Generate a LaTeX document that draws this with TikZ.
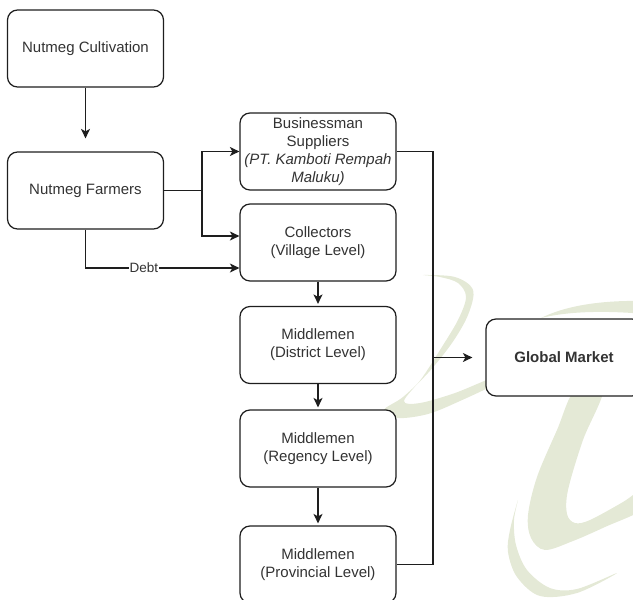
\documentclass[tikz,border=0pt]{standalone}
\usepackage{fontspec}
\setmainfont{Liberation Sans}
\usetikzlibrary{arrows.meta}
\definecolor{wm}{RGB}{228,233,214}
\definecolor{txt}{RGB}{51,51,51}
\definecolor{ln}{RGB}{30,30,30}
\begin{document}
\begin{tikzpicture}[x=1pt,y=-1pt,
  box/.style={draw=ln, line width=1.2pt, rounded corners=10pt, fill=white,
    minimum width=156pt, minimum height=77pt, align=center, text=txt,
    font=\fontsize{15}{18}\selectfont, inner sep=2pt},
  arr/.style={draw=ln, line width=1.2pt, -{Stealth[length=9.5pt,width=9pt,inset=2.5pt]}},
  wire/.style={draw=ln, line width=1.2pt},
  debtlabel/.style={fill=white, text=txt, inner sep=1pt, font=\fontsize{13.5}{15}\selectfont}]
\useasboundingbox (0,0) rectangle (633,600);
% watermark
\fill[wm] plot[smooth cycle, tension=0.55] coordinates {(423,275) (455,277) (473,290) (468,315) (452,343) (428,373) (403,397) (384,410) (398,418) (428,414) (460,401) (495,384) (495,377) (455,393) (420,403) (404,401) (422,378) (440,350) (458,320) (466,297) (458,283) (440,277)};
\fill[wm] plot[smooth cycle, tension=0.55] coordinates {(575,390) (557,430) (537,477) (528,515) (531,538) (545,550) (573,541) (605,527) (645,508) (645,488) (623,502) (590,520) (575,523) (567,514) (568,490) (583,440) (603,390)};
\fill[wm] plot[smooth cycle, tension=0.55] coordinates {(518,500) (510,530) (508,552) (517,577) (540,596) (577,593) (617,573) (577,589) (550,588) (527,570) (516,545) (514,520)};
\fill[wm] (541,318) .. controls (565,306) and (600,300) .. (645,301) -- (645,314) .. controls (600,310) and (565,312) .. (541,318) -- cycle;
% nodes
\node[box] (cult) at (85.5,48.5) {Nutmeg Cultivation};
\node[box] (farm) at (85.5,190.5) {Nutmeg Farmers};
\node[box] (biz) at (318,151.5) {Businessman\\Suppliers\\\textit{(PT. Kamboti Rempah}\\\textit{Maluku)}};
\node[box] (coll) at (318,242.5) {Collectors\\(Village Level)};
\node[box] (dist) at (318,345) {Middlemen\\(District Level)};
\node[box] (reg) at (318,448.5) {Middlemen\\(Regency Level)};
\node[box] (prov) at (318,564.5) {Middlemen\\(Provincial Level)};
\node[box, font=\fontsize{15}{18}\selectfont\bfseries] (gm) at (564,357.5) {Global Market};
% connectors
\coordinate (fork) at (202,190.5);
\coordinate (bus) at (433,357.5);
\draw[arr, shorten >=13pt] (cult) -- (farm);
\draw[wire] (farm.east) -- (fork);
\draw[arr] (fork) |- (biz.west);
\draw[arr] (fork) |- ([yshift=6.5pt]coll.west);
\draw[arr] (farm.south) |- node[pos=0.69, debtlabel] {Debt} ([yshift=-25.5pt]coll.west);
\draw[arr, shorten >=2pt] (coll) -- (dist);
\draw[arr, shorten >=2pt] (dist) -- (reg);
\draw[arr, shorten >=2pt] (reg) -- (prov);
\draw[wire] (biz.east) -| (bus) |- (prov.east);
\draw[arr, shorten >=13pt] (bus) -- (gm.west);
\end{tikzpicture}
\end{document}
